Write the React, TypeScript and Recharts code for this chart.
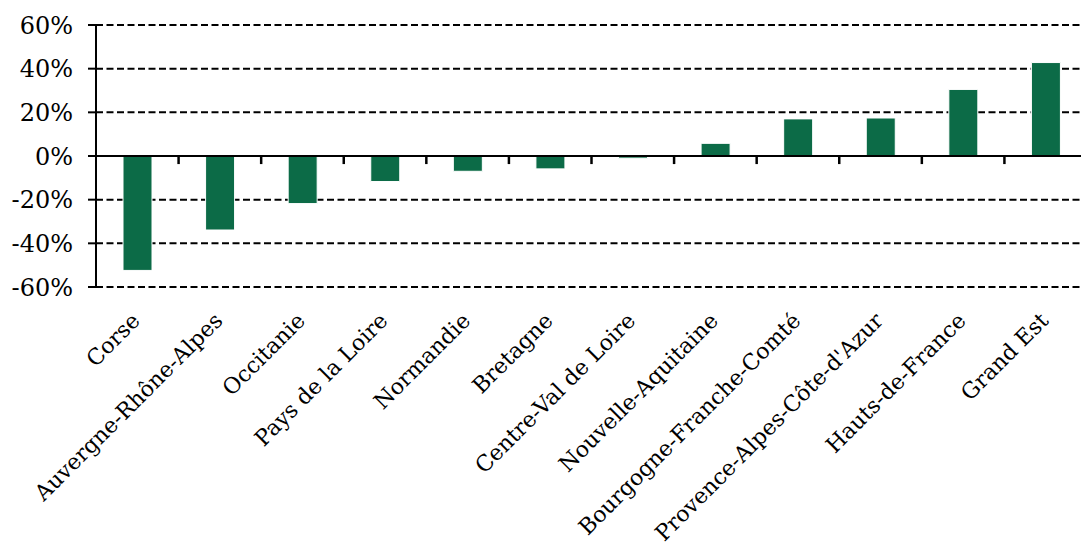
import React from 'react';
import * as R from 'recharts';
const { BarChart, Bar, XAxis, YAxis, CartesianGrid, ReferenceLine } = R as any;

const regions: string[] = [
  'Corse',
  'Auvergne-Rhône-Alpes',
  'Occitanie',
  'Pays de la Loire',
  'Normandie',
  'Bretagne',
  'Centre-Val de Loire',
  'Nouvelle-Aquitaine',
  'Bourgogne-Franche-Comté',
  "Provence-Alpes-Côte-d'Azur",
  'Hauts-de-France',
  'Grand Est',
];
const changes: number[] = [-0.524, -0.339, -0.218, -0.117, -0.07, -0.059, -0.01, 0.058, 0.17, 0.174, 0.305, 0.428];
const yTicks: number[] = [-0.6, -0.4, -0.2, 0, 0.2, 0.4, 0.6];
const tickMarkDepth = -0.037;

const data = regions.map((r, i) => ({ region: r, value: changes[i] }));

const FONT = '"DejaVu Serif", serif';

const useXS = (R as any).useXAxisScale;
const useYS = (R as any).useYAxisScale;

// category separator tick marks on the zero line, placed with the chart's own scales
function CategorySeparators() {
  const xs = useXS ? useXS() : null;
  const ys = useYS ? useYS() : null;
  if (!xs || !ys) return null;
  const y0 = ys(0);
  const y1 = ys(tickMarkDepth);
  return (
    <g>
      {regions.slice(1).map((r) => {
        const x = xs(r);
        if (typeof x !== 'number') return null;
        return <line key={r} x1={x} x2={x} y1={y0} y2={y1} stroke="#000" strokeWidth={2.5} />;
      })}
    </g>
  );
}

const XTick = (props: any) => {
  const { x, y, payload } = props;
  return (
    <g transform={`translate(${x + 4},${y + 35}) rotate(-45)`}>
      <text x={0} y={0} textAnchor="end" fontFamily={FONT} fontSize={22} fill="#000">
        {payload.value}
      </text>
    </g>
  );
};

export default function App() {
  return (
    <div style={{ position: 'absolute', left: 0, top: 0, width: 1081, height: 547, overflow: 'hidden', background: '#fff' }}>
      <BarChart
        width={1095}
        height={547}
        data={data}
        margin={{ top: 25, right: 8, left: 0, bottom: 0 }}
      >
        <CartesianGrid vertical={false} stroke="#000" strokeWidth={2} strokeDasharray="7 3.5" />
        <XAxis
          dataKey="region"
          interval={0}
          height={260}
          axisLine={false}
          tickLine={false}
          tickSize={0}
          tickMargin={0}
          tick={<XTick />}
        />
        <YAxis
          width={96}
          domain={[-0.6, 0.6]}
          ticks={yTicks}
          interval={0}
          tickFormatter={(v: number) => `${Math.round(v * 100)}%`}
          axisLine={{ stroke: '#000', strokeWidth: 2 }}
          tickLine={{ stroke: '#000', strokeWidth: 2 }}
          tickSize={8}
          tickMargin={15}
          tick={{ fontFamily: FONT, fontSize: 24, fill: '#000' }}
        />
        <Bar dataKey="value" fill="#0c6b47" stroke="#fff" strokeWidth={1} barSize={29} isAnimationActive={false} />
        <ReferenceLine y={0} stroke="#000" strokeWidth={2} />
        <CategorySeparators />
      </BarChart>
    </div>
  );
}
